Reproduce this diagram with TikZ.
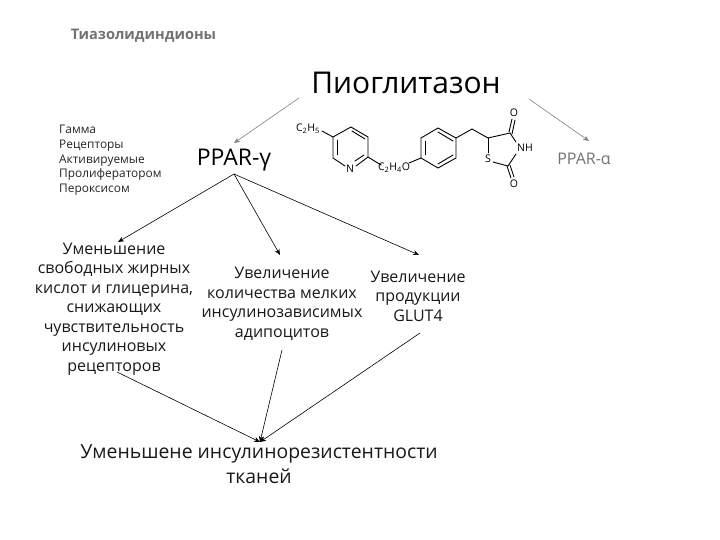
\documentclass[tikz,border=0pt]{standalone}
\usepackage{fontspec}
\setmainfont{Open Sans}
\usetikzlibrary{arrows.meta}
\tikzset{
  lbl/.style={inner sep=0pt,align=center,text=black!90,font=\fontsize{16}{19.5}\selectfont},
  small/.style={inner sep=0pt,align=left,text=black!85,font=\fontsize{11.9}{14.7}\selectfont},
  atom/.style={inner sep=0pt,font=\fontsize{10.5}{11}\selectfont},
  arr/.style={-{Stealth[length=6pt,width=5pt]},line width=0.6pt},
  grayarr/.style={arr,draw=black!50},
  bond/.style={line width=0.9pt,line cap=round}
}
\begin{document}
\begin{tikzpicture}[x=1pt,y=-1pt]
\useasboundingbox (0,0) rectangle (720,540);
\fill[white] (0,0) rectangle (720,540);
\node[inner sep=0pt,text=black!55,font=\bfseries\fontsize{14.6}{17}\selectfont] (title) at (143.5,36) {Тиазолидиндионы};
\node[inner sep=0pt,font=\fontsize{30}{36}\selectfont] (pio) at (406,83) {Пиоглитазон};
\node[small,anchor=north west] (gloss) at (59,125) {Гамма\\Рецепторы\\Активируемые\\Пролифератором\\Пероксисом};
\node[inner sep=0pt,font=\fontsize{23}{27}\selectfont] (pparg) at (234,160) {PPAR-γ};
\node[inner sep=0pt,text=black!55,font=\fontsize{16}{19}\selectfont] (ppara) at (584,159) {PPAR-α};
\node[lbl] (u1) at (114,309) {Уменьшение\\свободных жирных\\кислот и глицерина,\\снижающих\\чувствительность\\инсулиновых\\рецепторов};
\node[lbl] (u2) at (282,304) {Увеличение\\количества мелких\\инсулинозависимых\\адипоцитов};
\node[lbl] (u3) at (418,296) {Увеличение\\продукции\\GLUT4};
\node[inner sep=0pt,align=center,text=black!90,font=\fontsize{19.4}{25}\selectfont] (res) at (259,464) {Уменьшене инсулинорезистентности\\тканей};
\coordinate (a1) at (299,98);
\coordinate (a2) at (529,99);
\coordinate (b1) at (234,143);
\coordinate (b2) at (589,141);
\coordinate (c0) at (234,174);
\coordinate (c1) at (118,242);
\coordinate (c2) at (280,255);
\coordinate (c3) at (419,255);
\coordinate (d1) at (117,372);
\coordinate (d2) at (282,350);
\coordinate (d3) at (420,333);
\coordinate (e0) at (260,442);
\draw[grayarr] (a1) -- (b1);
\draw[grayarr] (a2) -- (b2);
\draw[arr] (c0) -- (c1);
\draw[arr] (c0) -- (c2);
\draw[arr] (c0) -- (c3);
\draw[arr] (d1) -- (e0);
\draw[arr] (d2) -- (e0);
\draw[arr] (d3) -- (e0);
% molecule
\node[atom] (n1) at (350,169) {N};
\node[atom] (c2h5) at (308,129) {C\textsubscript{2}H\textsubscript{5}};
\node[atom,anchor=center] (c2h4o) at (394,168) {C\textsubscript{2}H\textsubscript{4}O};
\node[atom] (s1) at (488,159) {S};
\node[atom] (nh) at (525,148) {NH};
\node[atom] (o1) at (514,113) {O};
\node[atom] (o2) at (514,184) {O};
\draw[bond] (322,131) -- (333,137) -- (351,127) -- (368,137) -- (368,157) -- (356,166);
\draw[bond] (345,166) -- (333,158) -- (333,137);
\draw[bond] (337,140) -- (337,155);
\draw[bond] (352,131) -- (365,139);
\draw[bond] (364,155) -- (355,161);
\draw[bond] (368,157) -- (381,165);
\draw[bond] (409,163) -- (421,158) -- (421,138) -- (438,128) -- (456,138) -- (456,158) -- (438,168) -- (421,158);
\draw[bond] (425,155) -- (425,141);
\draw[bond] (438,132) -- (453,141);
\draw[bond] (453,155) -- (438,164);
\draw[bond] (456,138) -- (472,129) -- (488,138) -- (510,133) -- (516,142);
\draw[bond] (488,138) -- (488,153);
\draw[bond] (493,162) -- (508,166) -- (516,154);
\draw[bond] (509,132) -- (512,119);
\draw[bond] (512,134) -- (515,120);
\draw[bond] (507,166) -- (511,178);
\draw[bond] (510,165) -- (514,177);
\end{tikzpicture}
\end{document}
